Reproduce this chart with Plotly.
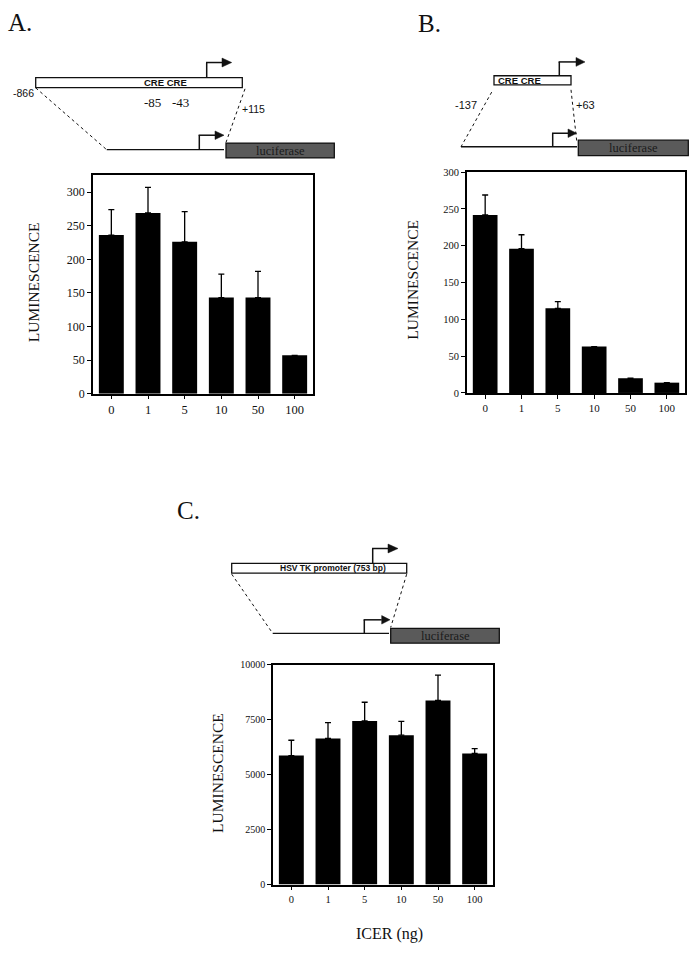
import plotly.graph_objects as go

W, H = 696, 954

doses = ["0", "1", "5", "10", "50", "100"]

lum_a = [236, 269, 226, 143, 143, 57]
err_a = [38, 38, 45, 35, 39, 0]

lum_b = [242, 196, 115, 63, 20, 14]
err_b = [27, 19, 9, 0, 0, 0]

lum_c = [5870, 6650, 7450, 6800, 8380, 5970]
err_c = [700, 720, 850, 630, 1150, 220]

yticks_a = [0, 50, 100, 150, 200, 250, 300]
yticks_b = [0, 50, 100, 150, 200, 250, 300]
yticks_c = [0, 2500, 5000, 7500, 10000]

SERIF = "Liberation Serif, Times New Roman, serif"
SANS = "Liberation Sans, Arial, sans-serif"


def px(x):
    return x / W


def py(y):
    return 1 - y / H


fig = go.Figure()

panels = [
    ("x", "y", lum_a, err_a),
    ("x2", "y2", lum_b, err_b),
    ("x3", "y3", lum_c, err_c),
]
for xa, ya, vals, errs in panels:
    # only the upper half of each error bar is drawn; skip bars with no error
    up = [e if e else None for e in errs]
    down = [0 if e else None for e in errs]
    fig.add_trace(go.Bar(
        x=doses, y=vals, xaxis=xa, yaxis=ya, width=0.68,
        marker=dict(color="black", line=dict(width=0)),
        error_y=dict(type="data", array=up, arrayminus=down,
                     symmetric=False, color="black", thickness=1.3, width=3),
        showlegend=False,
    ))


def xaxis_style(x0, x1, size, anchor):
    return dict(domain=[px(x0), px(x1)], type="category", range=[-0.5, 5.5],
                anchor=anchor, showline=True, linecolor="black", linewidth=1.6,
                mirror=True, ticks="outside", ticklen=4, tickwidth=1.2,
                tickcolor="black", showgrid=False, zeroline=False, fixedrange=True,
                tickfont=dict(family=SERIF, size=size, color="#111"))


def yaxis_style(y_top, y_bot, rng, vals, size, anchor):
    return dict(domain=[py(y_bot), py(y_top)], range=rng, anchor=anchor,
                tickvals=vals, tickformat="d", showline=True, linecolor="black",
                linewidth=1.6, mirror=True, ticks="outside", ticklen=4,
                tickwidth=1.2, tickcolor="black", showgrid=False, zeroline=False,
                fixedrange=True,
                tickfont=dict(family=SERIF, size=size, color="#111"))


shapes = []
annotations = []


def rect(x0, y0, x1, y1, fill):
    shapes.append(dict(type="rect", xref="paper", yref="paper",
                       x0=px(x0), y0=py(y0), x1=px(x1), y1=py(y1),
                       fillcolor=fill, line=dict(color="#111", width=1.3)))


def seg(x0, y0, x1, y1, dash="solid", w=1.2):
    shapes.append(dict(type="line", xref="paper", yref="paper",
                       x0=px(x0), y0=py(y0), x1=px(x1), y1=py(y1),
                       line=dict(color="#111", width=w, dash=dash)))


def bent_arrow(x, y_base, y_top, x_head, x_tip, hh):
    seg(x, y_base, x, y_top, w=1.5)
    seg(x - 0.7, y_top, x_head, y_top, w=1.5)
    path = "M {},{} L {},{} L {},{} Z".format(
        px(x_head), py(y_top - hh), px(x_tip), py(y_top),
        px(x_head), py(y_top + hh))
    shapes.append(dict(type="path", xref="paper", yref="paper", path=path,
                       fillcolor="#111", line=dict(color="#111", width=0.5)))


def text(x, y, s, size, family=SERIF, xanchor="center", angle=0, color="#111"):
    annotations.append(dict(x=px(x), y=py(y), xref="paper", yref="paper",
                            text=s, showarrow=False, xanchor=xanchor,
                            yanchor="middle", textangle=angle,
                            font=dict(family=family, size=size, color=color)))


# panel A diagram
text(6, 17, "A.", 25, xanchor="left")
rect(35.7, 72.7, 242.3, 82.7, "white")
text(165, 77.9, "<b>CRE CRE</b>", 9.5, family=SANS)
bent_arrow(206.7, 72.7, 57.3, 222, 231.7, 4.5)
text(36, 88.5, "-866", 10.5, family=SANS, xanchor="right")
text(152, 98, "-85", 13)
text(181, 98, "-43", 13)
text(240, 104, "+115", 10.5, family=SANS, xanchor="left")
seg(35.7, 83, 106.7, 145.7, dash="dot", w=1)
seg(245, 84, 226, 138.3, dash="dot", w=1)
seg(106.7, 145.7, 224, 145.7, w=1.3)
bent_arrow(199.3, 145.7, 131, 215, 224, 4.3)
rect(226, 139, 334.3, 154, "#5a5a5a")
text(280, 146.5, "luciferase", 12.5, color="#1a1a1a")

# panel B diagram
text(416, 18, "B.", 25, xanchor="left")
rect(494, 70.7, 571, 80, "white")
text(495.5, 75.5, "<b>CRE CRE</b>", 9.5, family=SANS, xanchor="left")
bent_arrow(559.3, 70.7, 56.7, 576, 585, 4.5)
text(479, 100, "-137", 11, family=SANS, xanchor="right")
text(573.5, 100, "+63", 11, family=SANS, xanchor="left")
seg(491.7, 87.3, 461, 142.7, dash="dot", w=1)
seg(571, 85, 576.7, 136.7, dash="dot", w=1)
seg(461, 142.7, 577, 142.7, w=1.3)
bent_arrow(552.7, 142.7, 129, 568, 576.7, 4.3)
rect(578.3, 136, 688.3, 151.7, "#5a5a5a")
text(633.3, 144, "luciferase", 12.5, color="#1a1a1a")

# panel C diagram
text(175, 511, "C.", 25, xanchor="left")
rect(231.7, 565, 406.7, 575, "white")
text(333, 570.2, "<b>HSV TK promoter (753 bp)</b>", 8.5, family=SANS)
bent_arrow(372.7, 565, 550, 388, 398, 4.5)
seg(231.7, 576, 272.7, 636, dash="dot", w=1)
seg(406.7, 576, 390.7, 630, dash="dot", w=1)
seg(272.7, 636, 389, 636, w=1.3)
bent_arrow(364.3, 636, 622.3, 381.7, 390, 4.3)
rect(390.7, 631, 499.3, 646, "#5a5a5a")
text(445, 638.5, "luciferase", 12.5, color="#1a1a1a")

# axis titles
text(33, 280, "LUMINESCENCE", 15.5, angle=-90)
text(412.5, 278, "LUMINESCENCE", 15.5, angle=-90)
text(218, 777.5, "LUMINESCENCE", 15.5, angle=-90)
text(390, 941, "ICER (ng)", 16)

fig.update_layout(
    width=W, height=H,
    margin=dict(l=0, r=0, t=0, b=0),
    paper_bgcolor="white", plot_bgcolor="white",
    xaxis=xaxis_style(93, 313, 12.5, "y"),
    yaxis=yaxis_style(171, 393, [0, 326], yticks_a, 12, "x"),
    xaxis2=xaxis_style(467, 685, 11, "y2"),
    yaxis2=yaxis_style(168.5, 392.3, [0, 300], yticks_b, 10.5, "x2"),
    xaxis3=xaxis_style(273, 493, 10.5, "y3"),
    yaxis3=yaxis_style(668, 890.7, [0, 10000], yticks_c, 10, "x3"),
    shapes=shapes,
    annotations=annotations,
)

# page body has a default 8px margin; drop it so the figure sits at 0,0
fig.write_html("out.html", config={"displayModeBar": False},
               post_script="document.body.style.margin='0';document.body.style.overflow='hidden';")
